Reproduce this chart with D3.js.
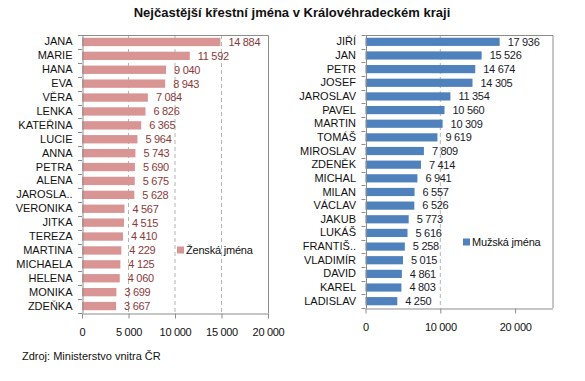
<!DOCTYPE html>
<html>
<head>
<meta charset="utf-8">
<script src="https://cdn.jsdelivr.net/npm/d3@7"></script>
<style>
  body { margin: 0; background: #fff; }
  svg { font-family: "Liberation Sans", Arial, sans-serif; }
</style>
</head>
<body>
<div id="chart"></div>
<script>
// zenska jmena
const femaleNames = ["JANA", "MARIE", "HANA", "EVA", "VĚRA", "LENKA", "KATEŘINA", "LUCIE", "ANNA", "PETRA",
  "ALENA", "JAROSLA..", "VERONIKA", "JITKA", "TEREZA", "MARTINA", "MICHAELA", "HELENA", "MONIKA", "ZDEŇKA"];
const femaleValues = [14884, 11592, 9040, 8943, 7084, 6826, 6365, 5964, 5743, 5690,
  5675, 5628, 4567, 4515, 4410, 4229, 4125, 4060, 3699, 3667];
const femaleTicks = [0, 5000, 10000, 15000, 20000];

// muzska jmena
const maleNames = ["JIŘÍ", "JAN", "PETR", "JOSEF", "JAROSLAV", "PAVEL", "MARTIN", "TOMÁŠ", "MIROSLAV", "ZDENĚK",
  "MICHAL", "MILAN", "VÁCLAV", "JAKUB", "LUKÁŠ", "FRANTIŠ..", "VLADIMÍR", "DAVID", "KAREL", "LADISLAV"];
const maleValues = [17936, 15526, 14674, 14305, 11354, 10560, 10309, 9619, 7809, 7414,
  6941, 6557, 6526, 5773, 5616, 5258, 5015, 4861, 4803, 4250];
const maleTicks = [0, 10000, 20000];

const width = 585, height = 381;
const fmt = d3.formatLocale({ decimal: ",", thousands: " ", grouping: [3], currency: ["", ""] }).format(",d");

const svg = d3.select("#chart").append("svg")
  .attr("width", width).attr("height", height);

svg.append("text")
  .attr("x", 292).attr("y", 17)
  .attr("text-anchor", "middle")
  .attr("font-size", 13).attr("font-weight", "bold")
  .attr("fill", "#111")
  .text("Nejčastější křestní jména v Královéhradeckém kraji");

svg.append("text")
  .attr("x", 22).attr("y", 360)
  .attr("font-size", 11).attr("fill", "#111")
  .text("Zdroj: Ministerstvo vnitra ČR");

const drawPanel = (o) => {
  const x = d3.scaleLinear().domain([0, o.max]).range([o.left, o.right]);
  const y = d3.scaleBand().domain(o.names).range([o.top, o.bottom]).paddingInner(0.4).paddingOuter(0.2);
  const g = svg.append("g");

  // gridlines
  g.selectAll(".grid").data(o.ticks.slice(1, -1)).join("line")
    .attr("x1", d => x(d)).attr("x2", d => x(d))
    .attr("y1", o.top).attr("y2", o.bottom)
    .attr("stroke", "#b3b3b3").attr("stroke-dasharray", "4,3");

  // plot area border (top & right)
  g.append("path")
    .attr("d", `M${o.left},${o.top + 0.5}H${o.right + 0.5}V${o.bottom}`)
    .attr("fill", "none").attr("stroke", "#8c8c8c");

  g.selectAll(".bar").data(o.values).join("rect")
    .attr("x", x(0))
    .attr("y", (d, i) => y(o.names[i]))
    .attr("width", d => x(d) - x(0))
    .attr("height", y.bandwidth())
    .attr("fill", o.color);

  g.selectAll(".val").data(o.values).join("text")
    .attr("x", d => x(d) + 8)
    .attr("y", (d, i) => y(o.names[i]) + y.bandwidth() / 2)
    .attr("dy", "0.35em")
    .attr("font-size", 11).attr("fill", o.labelColor)
    .attr("letter-spacing", "-0.3")
    .text(d => fmt(d));

  // left axis (categories)
  const leftAxis = d3.axisLeft(y).tickSize(0).tickPadding(10);
  const la = g.append("g").attr("transform", `translate(${o.left + 0.5},0)`).call(leftAxis);
  la.select(".domain").attr("stroke", "#8c8c8c");
  la.selectAll("text").attr("font-size", 11).attr("fill", "#111").attr("font-family", null);
  const step = y.step();
  g.selectAll(".ctick").data(d3.range(o.names.length + 1)).join("line")
    .attr("x1", o.left - 4).attr("x2", o.left)
    .attr("y1", i => Math.round(o.top + i * (o.bottom - o.top) / o.names.length) + 0.5)
    .attr("y2", i => Math.round(o.top + i * (o.bottom - o.top) / o.names.length) + 0.5)
    .attr("stroke", "#8c8c8c");

  // bottom axis
  const bottomAxis = d3.axisBottom(x).tickValues(o.ticks).tickSize(5).tickSizeOuter(0).tickPadding(10).tickFormat(fmt);
  const ba = g.append("g").attr("transform", `translate(0,${o.bottom + 0.5})`).call(bottomAxis);
  ba.select(".domain").attr("stroke", "#8c8c8c");
  ba.selectAll("line").attr("stroke", "#8c8c8c");
  ba.selectAll("text").attr("font-size", 11).attr("fill", "#111").attr("font-family", null)
    .attr("letter-spacing", "-0.3");

  // legenda
  g.append("rect").attr("x", o.legX).attr("y", o.legY - 3.5).attr("width", 7).attr("height", 7).attr("fill", o.color);
  g.append("text").attr("x", o.legX + 9).attr("y", o.legY).attr("dy", "0.35em")
    .attr("font-size", 11).attr("fill", "#111").attr("letter-spacing", "-0.2").text(o.legend);
};

drawPanel({
  names: femaleNames, values: femaleValues, ticks: femaleTicks, max: 20000,
  left: 82, right: 268, top: 35, bottom: 313,
  color: "#d99594", labelColor: "#8b3a3a",
  legend: "Ženská jména", legX: 177, legY: 250
});

drawPanel({
  names: maleNames, values: maleValues, ticks: maleTicks, max: 25000,
  left: 365.5, right: 552.5, top: 35, bottom: 308,
  color: "#4f81bd", labelColor: "#1a1a2a",
  legend: "Mužská jména", legX: 463, legY: 242
});
</script>
</body>
</html>
